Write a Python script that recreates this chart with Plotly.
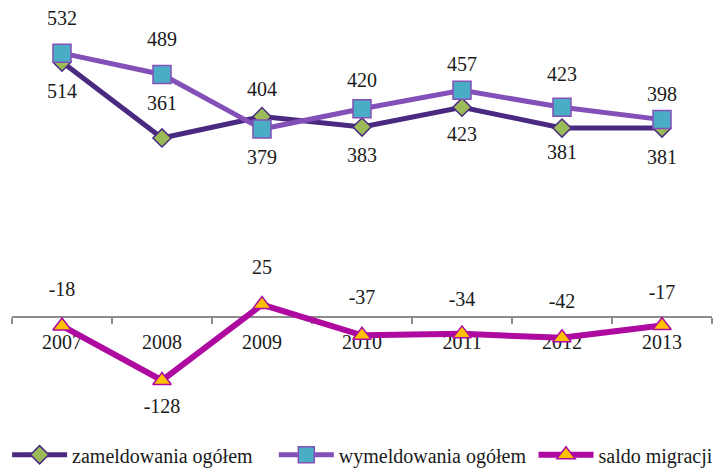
import plotly.graph_objects as go

years = ["2007", "2008", "2009", "2010", "2011", "2012", "2013"]
zameldowania = [514, 361, 404, 383, 423, 381, 381]
wymeldowania = [532, 489, 379, 420, 457, 423, 398]
saldo = [-18, -128, 25, -37, -34, -42, -17]

names = ["zameldowania ogółem", "wymeldowania ogółem", "saldo migracji"]

# label placement (style): side and distance in px from point to label centre
zam_side = ["bottom", "top", "top", "bottom", "bottom", "bottom", "bottom"]
zam_gap = [30, 32, 25, 29, 28, 25, 30]
wym_side = ["top", "top", "bottom", "top", "top", "top", "top"]
wym_gap = [32, 32, 29, 26, 23, 30, 23]
sal_side = ["top", "bottom", "top", "top", "top", "top", "top"]
sal_gap = [34, 27, 35, 35, 32, 34, 30]

FONT = "Liberation Serif"
FS = 20
# page body has an 8px margin, so the figure is drawn 8px in from the window edge
W, H = 713, 460
mt, mb, ml, mr = 2, 40, 4, 9
ymin, ymax = -223.8, 619.0

colors_line = ["#4A2A80", "#8350B8", "#AE0AA0"]

fig = go.Figure()
fig.add_trace(go.Scatter(
    x=years, y=zameldowania, name=names[0], mode="lines+markers",
    line=dict(color=colors_line[0], width=5),
    marker=dict(symbol="diamond", size=14, color="#9BBB59",
                line=dict(color=colors_line[0], width=1.5)),
    legend="legend",
))
fig.add_trace(go.Scatter(
    x=years, y=wymeldowania, name=names[1], mode="lines+markers",
    line=dict(color=colors_line[1], width=5),
    marker=dict(symbol="square", size=18, color="#4BACC6",
                line=dict(color=colors_line[1], width=1.5)),
    legend="legend2",
))
fig.add_trace(go.Scatter(
    x=years, y=saldo, name=names[2], mode="lines+markers",
    line=dict(color=colors_line[2], width=6),
    marker=dict(symbol="triangle-up", size=16, color="#FFC000",
                line=dict(color=colors_line[2], width=1.5)),
    legend="legend3",
))

# data labels: invisible markers whose size sets the label distance
for vals, sides, gaps in ((zameldowania, zam_side, zam_gap),
                          (wymeldowania, wym_side, wym_gap),
                          (saldo, sal_side, sal_gap)):
    fig.add_trace(go.Scatter(
        x=years, y=vals, mode="markers+text",
        text=[str(v) for v in vals],
        textposition=[s + " center" for s in sides],
        textfont=dict(family=FONT, size=FS, color="#1a1a1a"),
        marker=dict(size=[1.6 * (g - 10) for g in gaps], opacity=0,
                    line=dict(width=0)),
        showlegend=False, hoverinfo="skip", cliponaxis=False,
    ))

zero_pos = (0 - ymin) / (ymax - ymin)

def leg(x):
    return dict(orientation="h", x=x, xanchor="left", y=-0.064, yanchor="middle",
                font=dict(family=FONT, size=20, color="#1a1a1a"),
                itemwidth=55, bgcolor="rgba(0,0,0,0)")

fig.update_layout(
    width=W, height=H,
    margin=dict(l=ml, r=mr, t=mt, b=mb, autoexpand=False),
    paper_bgcolor="white", plot_bgcolor="white",
    font=dict(family=FONT, size=FS, color="#1a1a1a"),
    showlegend=True,
    legend=leg(-0.007), legend2=leg(0.374), legend3=leg(0.745),
    xaxis=dict(
        type="category", anchor="free", position=zero_pos, automargin=False,
        showline=True, linecolor="#8c8c8c", linewidth=1.5,
        ticks="outside", tickson="boundaries", ticklen=6, tickcolor="#8c8c8c", tickwidth=1.5,
        showgrid=False, zeroline=False, layer="below traces",
        tickfont=dict(family=FONT, size=FS, color="#1a1a1a"),
        range=[-0.5, 6.5], ticklabelstandoff=7,
    ),
    yaxis=dict(range=[ymin, ymax], visible=False, showgrid=False, zeroline=False,
               automargin=False),
)

fig.write_html("out.html")
